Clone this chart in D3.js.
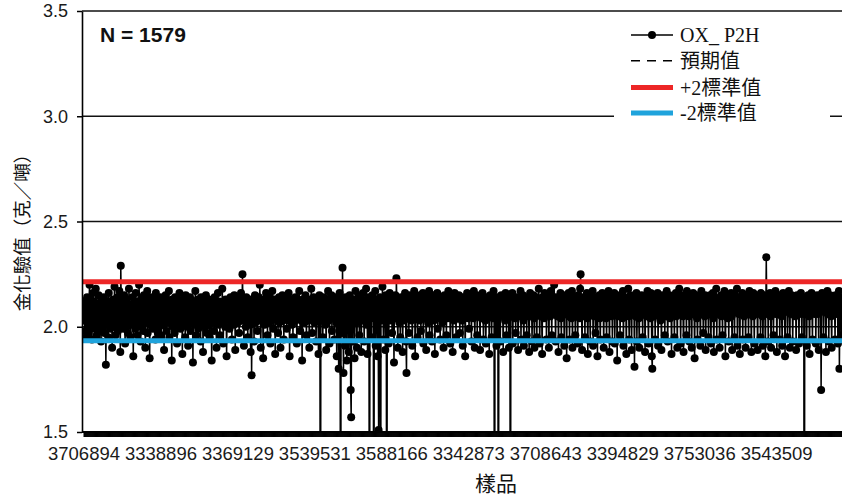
<!DOCTYPE html>
<html><head><meta charset="utf-8">
<script src="https://cdn.jsdelivr.net/npm/d3@7"></script>
<style>html,body{margin:0;padding:0;background:#fff;}svg{display:block;}</style>
</head><body>
<svg id="chart" width="842" height="498"></svg>
<script>
// ---------------- data ----------------
const seriesName = "OX_ P2H";
const sampleCountLabel = "N = 1579";
const expectedValue = 2.074;   // 預期值
const upperLimit = 2.214;      // +2標準值
const lowerLimit = 1.933;      // -2標準值
const yTicks = [1.5, 2.0, 2.5, 3.0, 3.5];
const gridValues = [2.0, 2.5, 3.0, 3.5];
const xTickLabels = ["3706894","3338896","3369129","3539531","3588166","3342873","3708643","3394829","3753036","3543509"];
const xLabelEvery = 160;
const legendLabels = ["OX_ P2H", "預期值", "+2標準值", "-2標準值"];
// gold assay values (g/t), in sample order (0 = result below chart floor)
const grades = [
2.03,2.08,1.98,2.12,2.05,1.95,2.10,2.14,2.02,2.07,1.97,2.11,2.20,2.06,2.00,2.13,2.04,1.94,2.09,2.16,
2.01,2.07,2.12,1.99,2.05,2.18,2.03,1.96,2.10,2.08,2.02,2.15,1.98,2.06,2.11,2.04,1.93,2.09,2.13,2.00,
2.07,2.03,2.14,1.97,2.05,2.10,1.82,2.08,2.01,2.12,2.06,1.95,2.16,2.02,2.09,1.99,2.11,2.04,2.07,1.90,
2.05,2.13,2.00,2.08,2.19,2.03,1.96,2.11,2.06,2.01,2.14,1.98,2.09,2.04,2.17,2.07,1.88,2.29,2.10,2.02,
2.06,2.12,1.99,2.05,2.15,2.03,1.92,2.09,2.13,2.00,2.07,2.11,1.97,2.04,2.18,2.08,2.02,1.95,2.10,2.06,
2.01,2.14,2.07,1.86,2.11,2.04,2.09,1.99,2.16,2.05,2.02,2.12,1.96,2.08,2.03,2.20,2.10,2.06,1.93,2.13,
2.00,2.07,2.04,2.11,1.98,2.15,2.05,2.09,1.90,2.02,2.12,2.06,2.17,1.97,2.08,2.03,2.10,1.85,2.05,2.14,
2.08,2.01,2.11,2.06,1.99,2.13,2.04,2.09,2.02,1.94,2.16,2.07,2.03,2.10,1.97,2.12,2.05,2.00,2.08,2.14,
2.03,1.96,2.10,2.06,2.13,2.01,2.08,1.89,2.11,2.04,2.15,2.07,1.98,2.09,2.02,2.12,2.05,2.17,1.95,2.06,
2.10,2.03,2.08,1.84,2.13,2.05,2.00,2.11,2.07,1.97,2.14,2.02,2.09,2.05,1.92,2.12,2.04,2.08,2.01,2.16,
2.06,1.99,2.11,2.03,2.09,1.87,2.13,2.05,2.02,2.10,2.07,1.95,2.15,2.04,2.08,2.00,2.12,1.91,2.06,2.10,
2.03,2.14,1.98,2.07,2.11,2.04,2.09,1.83,2.12,2.06,2.01,2.08,2.17,2.03,1.96,2.10,2.05,2.13,1.99,2.07,
2.11,2.02,2.09,1.93,2.14,2.06,2.03,2.10,1.88,2.08,2.12,2.04,2.07,2.00,2.15,2.05,1.97,2.11,2.08,2.02,
2.13,2.06,1.95,2.09,2.04,2.11,1.84,2.07,2.02,2.12,2.08,1.98,2.14,2.05,2.10,2.03,1.90,2.09,2.06,2.16,
2.01,2.08,2.12,1.96,2.05,2.10,2.07,2.03,2.18,2.09,1.92,2.04,2.11,2.06,2.00,2.13,2.08,1.86,2.05,2.10,
2.04,2.12,2.07,1.99,2.09,2.14,2.02,2.06,1.94,2.11,2.05,2.08,2.01,2.15,2.07,1.89,2.10,2.04,2.12,2.06,
2.09,2.02,2.13,1.97,2.07,2.11,2.05,2.16,2.03,2.08,2.25,2.10,2.04,1.91,2.12,2.06,2.09,2.00,2.14,2.05,
2.08,1.95,2.11,2.03,2.07,2.13,2.01,1.88,2.09,1.77,2.05,2.10,2.04,2.12,1.93,2.07,2.15,2.02,2.09,2.06,
2.11,1.98,2.05,2.08,2.14,2.03,2.20,2.10,1.90,2.06,2.12,2.04,2.09,1.85,2.07,2.13,2.01,2.10,2.05,2.16,
2.03,2.09,1.96,2.12,2.06,2.08,2.02,2.14,1.92,2.07,2.11,2.04,2.17,2.05,1.99,2.10,2.08,2.13,1.87,2.06,
2.10,2.04,2.12,2.07,1.97,2.09,2.14,2.02,2.06,1.90,2.11,2.05,2.08,2.15,2.03,2.10,1.94,2.07,2.12,2.05,
2.08,2.13,1.99,2.06,2.10,2.03,2.16,2.07,1.86,2.11,2.04,2.09,2.13,2.01,2.08,1.95,2.12,2.06,2.10,2.03,
2.14,2.05,2.09,1.92,2.07,2.12,2.04,2.10,2.17,2.06,1.98,2.11,2.03,2.08,1.84,2.13,2.07,2.05,2.10,2.02,
2.09,2.15,2.04,1.96,2.11,2.07,2.13,2.03,2.08,1.90,2.12,2.05,2.10,2.18,2.06,1.97,2.09,2.04,2.14,2.07,
2.02,2.11,2.08,1.93,2.06,2.13,2.10,2.04,1.87,2.09,2.15,2.05,0,2.07,2.12,2.03,2.10,1.95,2.08,2.14,
2.05,2.11,2.01,2.08,1.89,2.13,2.06,2.10,2.17,2.03,2.09,1.92,2.12,2.07,2.04,2.15,1.98,2.10,2.06,2.13,
2.08,1.94,2.11,2.05,2.14,2.02,1.86,2.09,2.12,2.06,1.80,2.10,2.16,2.04,0,2.08,2.13,1.97,2.28,2.07,
1.78,2.11,2.05,1.91,2.09,2.14,2.03,1.84,2.10,2.06,2.12,1.88,2.08,2.15,2.04,1.70,1.57,2.07,2.11,1.93,
2.09,2.13,2.05,1.85,2.10,2.17,2.07,2.02,1.90,2.12,2.08,2.04,2.15,1.96,2.11,2.06,2.09,1.88,2.13,2.07,
2.03,2.16,2.10,1.93,2.08,2.12,2.05,2.18,2.01,2.09,1.87,2.14,2.06,2.11,0,2.07,2.13,2.04,1.95,2.10,
2.15,2.06,2.12,0,2.08,2.04,2.17,1.91,2.10,2.13,2.05,1.86,2.09,1.51,2.11,2.07,2.14,0,2.03,2.10,
2.06,2.19,2.08,1.94,2.12,2.04,2.10,1.89,2.15,2.07,0,2.11,2.05,2.13,1.92,2.08,2.16,2.03,2.10,2.06,
2.12,1.97,2.09,2.14,2.05,1.83,2.11,2.07,2.15,2.04,2.23,2.10,2.06,1.90,2.13,2.08,2.02,2.12,1.95,2.09,
2.14,2.05,2.10,1.88,2.07,2.13,2.03,2.09,2.16,2.06,1.93,1.78,2.11,2.08,2.04,2.12,1.97,2.10,2.15,2.06,
2.09,2.03,2.13,1.91,2.07,2.11,2.05,2.17,2.10,1.86,2.08,2.14,2.04,2.09,1.95,2.12,2.06,2.10,2.03,2.15,
2.07,1.98,2.12,2.05,2.09,2.16,1.92,2.08,2.13,2.04,2.10,2.06,1.89,2.14,2.07,2.11,2.02,2.09,2.17,1.96,
2.10,2.05,2.13,2.08,1.93,2.11,2.06,2.15,2.03,2.09,1.87,2.12,2.07,2.10,2.04,2.16,1.99,2.08,2.13,2.05,
2.11,1.94,2.09,2.14,2.06,2.10,2.02,2.12,1.90,2.08,2.15,2.05,2.11,2.07,1.96,2.13,2.09,2.04,2.17,2.06,
2.08,2.12,1.92,2.10,2.05,2.14,2.07,1.88,2.11,2.09,2.03,2.16,2.06,2.10,1.95,2.13,2.08,2.04,2.12,2.07,
2.15,2.05,1.97,2.11,2.08,2.13,2.03,2.10,1.91,2.14,2.06,2.09,2.12,1.86,2.07,2.11,2.05,2.16,2.09,2.04,
2.12,1.99,2.08,2.14,2.06,2.10,1.93,2.13,2.07,2.11,2.04,2.17,2.09,1.90,2.12,2.06,2.10,2.15,1.96,2.08,
2.13,2.05,2.10,2.07,1.89,2.14,2.09,2.04,2.11,2.16,2.06,1.94,2.12,2.08,2.13,2.03,1.92,2.10,2.07,2.14,
2.09,2.05,2.12,1.87,2.10,2.15,2.06,2.11,1.95,2.08,2.13,2.04,2.17,2.09,0,2.12,2.06,2.10,1.91,2.14,
2.07,2.11,0,2.08,2.13,2.05,1.93,2.10,2.15,2.06,2.12,2.09,1.88,2.14,2.07,2.11,2.03,2.16,2.08,1.96,
2.12,2.06,2.10,2.14,1.90,2.09,2.13,0,2.07,2.11,2.05,2.16,1.92,2.10,2.08,2.13,2.04,2.12,1.97,2.09,
2.14,2.06,2.11,1.89,2.08,2.13,2.10,2.05,2.17,1.94,2.09,2.12,2.07,2.15,2.03,1.91,2.11,2.08,2.13,2.06,
2.10,1.96,2.14,2.07,2.12,2.05,1.88,2.09,2.16,2.11,2.06,2.13,1.93,2.08,2.10,2.15,2.04,1.90,2.12,2.07,
2.11,2.14,1.95,2.09,2.06,2.13,2.18,2.08,1.92,2.10,2.05,2.12,2.07,1.87,2.14,2.09,2.11,2.04,2.16,2.08,
2.06,2.12,1.94,2.10,2.15,2.07,2.13,1.90,2.09,2.11,2.05,2.17,2.08,1.96,2.12,2.06,2.10,2.14,2.20,2.09,
2.07,1.93,2.12,2.08,2.14,2.05,2.10,1.88,2.13,2.07,2.11,2.16,2.04,1.95,2.09,2.12,2.06,2.15,2.08,1.91,
2.11,2.06,2.14,2.09,1.85,2.12,2.07,2.10,2.16,2.05,1.94,2.13,2.08,2.11,2.04,2.17,1.90,2.09,2.12,2.06,
2.14,2.08,1.96,2.11,2.05,2.13,2.09,1.92,2.15,2.07,2.10,2.04,2.18,2.25,2.12,2.06,1.89,2.10,2.14,2.08,
2.05,2.11,1.95,2.13,2.08,2.10,2.16,2.04,1.87,2.12,2.07,2.14,2.09,1.93,2.11,2.06,2.13,2.08,2.17,1.91,
2.10,2.05,2.12,2.08,1.97,2.14,2.06,2.11,1.86,2.09,2.13,2.07,2.15,2.04,1.94,2.10,2.12,2.08,2.16,2.05,
2.09,1.90,2.13,2.07,2.11,2.15,2.04,1.95,2.10,2.12,2.06,2.17,2.09,1.88,2.13,2.07,2.11,2.05,2.14,1.93,
2.08,2.12,2.06,2.16,1.92,2.10,2.13,2.07,2.09,1.84,2.14,2.05,2.11,2.08,2.15,1.96,2.10,2.06,2.13,2.09,
2.04,2.17,1.91,2.11,2.08,2.14,2.06,2.10,1.87,2.13,2.07,2.12,2.18,2.05,1.94,2.09,2.11,2.15,2.07,1.89,
2.12,2.06,2.10,2.14,2.08,1.81,2.13,2.05,2.11,2.16,1.93,2.09,2.07,2.12,2.04,1.90,2.14,2.08,2.11,2.06,
2.15,2.09,1.95,2.12,2.07,2.10,2.13,1.88,2.08,2.14,2.05,2.11,2.17,2.06,1.92,2.10,2.13,2.08,2.04,2.16,
2.09,1.86,1.80,2.11,2.07,2.14,2.05,2.10,1.94,2.13,2.08,2.12,2.06,2.16,1.91,2.09,2.11,2.14,2.07,2.03,
2.12,1.89,2.10,2.15,2.06,2.11,2.08,2.13,1.96,2.09,2.14,2.05,2.17,2.10,1.93,2.07,2.12,2.08,2.15,2.04,
2.10,2.13,1.87,2.09,2.06,2.14,2.11,2.07,1.95,2.12,2.08,2.16,2.05,2.10,1.90,2.13,2.09,2.06,2.18,2.11,
2.07,1.92,2.13,2.08,2.10,2.15,2.05,1.88,2.12,2.09,2.14,2.06,2.11,1.96,2.17,2.08,2.10,2.13,2.05,1.93,
2.11,2.14,2.07,2.09,1.90,2.12,2.06,2.16,2.10,2.08,1.85,2.13,2.07,2.11,2.15,2.04,1.94,2.09,2.12,2.06,
2.14,2.08,1.91,2.11,2.17,2.06,2.10,2.13,1.97,2.09,2.12,2.05,2.15,1.89,2.10,2.07,2.14,2.11,2.06,1.95,
2.12,2.09,2.15,2.06,1.92,2.13,2.08,2.11,2.16,2.04,1.88,2.10,2.14,2.07,2.12,2.18,1.94,2.09,2.11,2.06,
2.13,2.08,1.90,2.12,2.10,2.15,2.05,2.09,1.96,2.14,2.07,2.11,2.17,2.06,1.86,2.10,2.13,2.08,2.15,2.04,
2.11,1.93,2.14,2.09,2.07,2.12,2.16,2.05,1.89,2.10,2.13,2.08,2.11,1.95,2.15,2.07,2.12,2.09,2.18,1.91,
2.08,2.12,2.06,2.14,1.87,2.10,2.13,2.07,2.11,2.16,1.94,2.09,2.12,2.05,2.15,2.08,1.90,2.11,2.14,2.06,
2.10,2.13,1.95,2.09,2.17,2.06,2.12,2.08,1.88,2.14,2.10,2.05,2.16,2.11,1.92,2.08,2.13,2.07,2.15,2.10,
2.06,1.89,2.12,2.09,2.14,2.07,2.11,1.95,2.16,2.08,2.13,2.05,1.91,2.10,2.15,2.08,2.12,1.86,2.09,2.33,
2.11,2.06,2.14,1.93,2.10,2.13,2.08,2.16,2.05,1.90,2.12,2.09,2.15,2.07,1.96,2.11,2.14,2.08,2.17,2.06,
2.10,1.88,2.13,2.09,2.12,2.06,2.15,1.94,2.11,2.08,2.14,2.05,1.91,2.10,2.16,2.07,2.12,2.09,1.86,2.13,
2.08,2.14,2.11,1.95,2.07,2.12,2.17,2.09,1.90,2.13,2.06,2.10,2.15,2.08,1.93,2.11,2.14,2.07,2.10,2.05,
2.13,1.89,2.09,2.15,2.11,2.07,2.12,1.92,2.14,2.08,2.10,2.16,2.06,1.95,2.12,2.09,2.13,2.07,0,2.11,
2.06,2.14,2.09,1.91,2.12,2.08,2.15,2.10,2.05,1.87,2.13,2.09,2.11,2.16,2.07,1.94,2.12,2.10,2.14,2.06,
2.09,2.13,1.92,2.11,2.08,2.15,2.06,2.10,1.89,2.14,2.07,2.12,2.09,1.70,2.11,2.16,2.08,2.13,1.95,2.10,
2.07,2.14,2.11,1.88,2.09,2.13,2.17,2.06,2.10,1.93,2.12,2.08,2.15,2.11,2.05,1.90,2.13,2.09,2.14,2.07,
2.11,2.08,1.94,2.15,2.10,2.06,2.13,2.09,1.92,2.12,2.17,1.80,2.08,2.14,2.11,1.96,2.10,2.13,2.07
];

// ---------------- chart ----------------
const plot = {left: 82, right: 842, top: 11, bottom: 432};
const svg = d3.select("#chart");

const x = d3.scaleBand().domain(d3.range(grades.length)).range([83.5, 843]).padding(0);
const cx = i => x(i) + x.bandwidth() / 2;
const y = d3.scaleLinear().domain([1.5, 3.5]).range([plot.bottom, plot.top]);

const sans = "'Liberation Sans', Arial, 'Noto Sans CJK TC', sans-serif";
const serif = "'Liberation Serif', 'Times New Roman', 'Noto Sans CJK TC', serif";

svg.append("defs").append("clipPath").attr("id", "plotclip")
  .append("rect").attr("x", plot.left).attr("y", plot.top)
  .attr("width", plot.right - plot.left).attr("height", plot.bottom - plot.top);

// gridlines
svg.append("g").selectAll("line").data(gridValues).join("line")
  .attr("x1", plot.left).attr("x2", plot.right)
  .attr("y1", d => y(d)).attr("y2", d => y(d))
  .attr("stroke", "#111").attr("stroke-width", 1.6);

// expected value (dashed)
svg.append("line")
  .attr("x1", plot.left).attr("x2", plot.right)
  .attr("y1", y(expectedValue)).attr("y2", y(expectedValue))
  .attr("stroke", "#000").attr("stroke-width", 1.5).attr("stroke-dasharray", "9,7");

// data series
const dataG = svg.append("g").attr("clip-path", "url(#plotclip)");
dataG.append("path").datum(grades)
  .attr("fill", "none").attr("stroke", "#000").attr("stroke-width", 1.5)
  .attr("d", d3.line().x((d, i) => cx(i)).y(d => y(d)));
dataG.append("g").selectAll("circle").data(grades).join("circle")
  .attr("cx", (d, i) => cx(i)).attr("cy", d => y(d)).attr("r", 4).attr("fill", "#000");

// ±2 SD lines on top
svg.append("line").attr("x1", plot.left).attr("x2", plot.right)
  .attr("y1", y(upperLimit)).attr("y2", y(upperLimit))
  .attr("stroke", "#ed2626").attr("stroke-width", 5);
svg.append("line").attr("x1", plot.left).attr("x2", plot.right)
  .attr("y1", y(lowerLimit)).attr("y2", y(lowerLimit))
  .attr("stroke", "#1fa3dc").attr("stroke-width", 5);

// x axis
const xAxis = d3.axisBottom(x)
  .tickValues(d3.range(grades.length))
  .tickSize(5).tickSizeOuter(0).tickPadding(10)
  .tickFormat(i => (i % xLabelEvery === 0 && xTickLabels[i / xLabelEvery]) ? xTickLabels[i / xLabelEvery] : "");
const gx = svg.append("g").attr("transform", `translate(0,${plot.bottom})`).call(xAxis);
gx.select(".domain").attr("d", `M${plot.left},0H${plot.right}`).attr("stroke", "#000").attr("stroke-width", 2);
gx.selectAll(".tick line").attr("stroke", "#000").attr("stroke-width", 1);
gx.selectAll(".tick text").attr("font-family", sans).attr("font-size", 18.5).attr("fill", "#1a1a1a");

// y axis
const yAxis = d3.axisLeft(y).tickValues(yTicks).tickSize(5).tickSizeOuter(0).tickPadding(9)
  .tickFormat(d3.format(".1f"));
const gy = svg.append("g").attr("transform", `translate(${plot.left},0)`).call(yAxis);
gy.select(".domain").attr("stroke", "#000").attr("stroke-width", 1.6);
gy.selectAll(".tick line").attr("stroke", "#000").attr("stroke-width", 1.5);
gy.selectAll(".tick text").attr("font-family", sans).attr("font-size", 18).attr("fill", "#1a1a1a");

// N label
svg.append("text").attr("x", 100).attr("y", 42).text(sampleCountLabel)
  .attr("font-family", sans).attr("font-weight", "bold").attr("font-size", 21).attr("fill", "#111");

// axis titles
svg.append("text").attr("transform", `translate(29,228) rotate(-90)`)
  .attr("text-anchor", "middle").text("金化驗值（克／噸）")
  .attr("font-family", "'Noto Sans CJK TC', sans-serif").attr("font-size", 18.5).attr("fill", "#111");
svg.append("text").attr("x", 496).attr("y", 491).attr("text-anchor", "middle").text("樣品")
  .attr("font-family", "'Noto Sans CJK TC', sans-serif").attr("font-size", 21).attr("fill", "#111");

// legend
const lg = svg.append("g");
lg.append("rect").attr("x", 614).attr("y", 20).attr("width", 216).attr("height", 106).attr("fill", "#fff");
const rowY = [35, 60.7, 87.5, 113];
const lx0 = 631, lx1 = 673;
lg.append("line").attr("x1", lx0).attr("x2", lx1).attr("y1", rowY[0]).attr("y2", rowY[0]).attr("stroke", "#000").attr("stroke-width", 1.5);
lg.append("circle").attr("cx", (lx0 + lx1) / 2).attr("cy", rowY[0]).attr("r", 4).attr("fill", "#000");
lg.append("line").attr("x1", lx0).attr("x2", lx1).attr("y1", rowY[1]).attr("y2", rowY[1]).attr("stroke", "#000").attr("stroke-width", 1.5).attr("stroke-dasharray", "9,7");
lg.append("line").attr("x1", lx0).attr("x2", lx1).attr("y1", rowY[2]).attr("y2", rowY[2]).attr("stroke", "#ed2626").attr("stroke-width", 5);
lg.append("line").attr("x1", lx0).attr("x2", lx1).attr("y1", rowY[3]).attr("y2", rowY[3]).attr("stroke", "#1fa3dc").attr("stroke-width", 5);
lg.selectAll("text.lab").data(legendLabels).join("text").attr("class", "lab")
  .attr("x", 680).attr("y", (d, i) => rowY[i]).attr("dy", "0.36em")
  .text(d => d).attr("font-family", serif).attr("font-size", 20).attr("fill", "#111");
</script>
</body></html>
